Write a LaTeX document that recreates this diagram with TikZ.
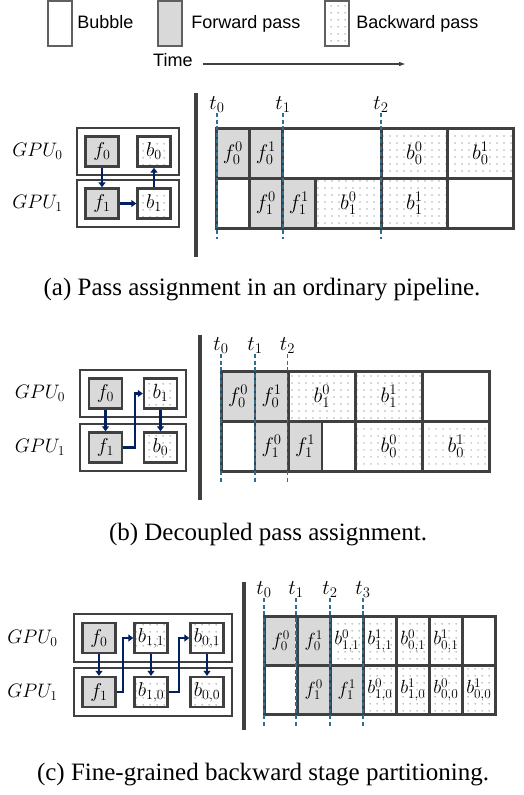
\RequirePackage{fix-cm}
\documentclass[tikz,border=0pt]{standalone}
\usepackage{fontspec}
\setmainfont{Liberation Serif}
\setsansfont{Liberation Sans}
\usepackage{tikz}
\usetikzlibrary{arrows.meta, positioning, fit, patterns.meta}
\usepackage{xcolor}
\definecolor{edgegray}{RGB}{64,64,64}
\definecolor{leggray}{RGB}{96,96,96}
\definecolor{fwdgray}{RGB}{217,217,217}
\definecolor{flowblue}{RGB}{0,32,96}
\definecolor{markblue}{RGB}{46,110,145}
\definecolor{dotgray}{RGB}{85,85,85}

\begin{document}
\begin{tikzpicture}[x=1pt, y=-1pt,
    cell/.style={rectangle, draw=edgegray, line width=2.6pt, anchor=north west, minimum width=33pt, minimum height=50pt, inner sep=0pt, font=\fontsize{21}{21}\selectfont},
    dotted fill/.style={pattern={Dots[distance=6.5pt, radius=0.65pt]}, pattern color=dotgray},
    fwd/.style={cell, fill=fwdgray},
    bwd/.style={cell, dotted fill},
    bub/.style={cell, fill=white},
    wide/.style={minimum width=#1},
    narrow/.style={minimum height=49pt, font=\fontsize{19}{19}\selectfont},
    task/.style={rectangle, draw=edgegray, line width=2.4pt, minimum width=33pt, minimum height=30pt, inner sep=0pt, font=\fontsize{20}{20}\selectfont},
    ftask/.style={task, fill=fwdgray},
    btask/.style={task, dotted fill},
    gpubox/.style={rectangle, draw=edgegray, line width=2.2pt, inner sep=7.5pt},
    gpulab/.style={font=\fontsize{19.5}{19.5}\selectfont, inner sep=0pt},
    flow/.style={-{Triangle[length=5pt, width=7pt]}, line width=2.2pt, draw=flowblue},
    tlab/.style={font=\fontsize{21}{21}\selectfont, inner sep=0pt, anchor=south},
    tline/.style={draw=markblue, line width=1.1pt, dash pattern=on 4pt off 2.5pt},
    divider/.style={draw=edgegray, line width=3.5pt},
    legbox/.style={rectangle, draw=leggray, line width=2.3pt, minimum width=24pt, minimum height=45pt, inner sep=0pt},
    legtext/.style={font=\sffamily\fontsize{18}{18}\selectfont, inner sep=0pt, text height=13pt, text depth=4pt},
    caption/.style={font=\fontsize{25}{25}\selectfont, inner sep=0pt}
]
\useasboundingbox (0,0) rectangle (524,795);

\node[legbox] (bubkey) at (60,23.5) {};
\node[legtext, right=4pt of bubkey] (bubtxt) {Bubble};
\node[legbox, fill=fwdgray] (fwdkey) at (170,23.5) {};
\node[legtext, right=8pt of fwdkey] (fwdtxt) {Forward pass};
\node[legbox, dotted fill] (bwdkey) at (337,23.5) {};
\node[legtext, right=6pt of bwdkey] (bwdtxt) {Backward pass};
\node[legtext, anchor=west] (timetxt) at (153,62) {Time};
\coordinate (timeend) at (405,64);
\draw[-{Triangle[length=6pt, width=4pt]}, line width=1.1pt, draw=edgegray, shorten <=10pt] (timetxt.east |- timeend) -- (timeend);

\node[ftask] (fa0) at (102,151.5) {$f_0$};
\node[btask] (ba0) at (154,151.5) {$b_0$};
\node[ftask] (fa1) at (102,203.5) {$f_1$};
\node[btask] (ba1) at (154,203.5) {$b_1$};
\node[gpubox, fit=(fa0)(ba0)] (gpua0) {};
\node[gpubox, fit=(fa1)(ba1)] (gpua1) {};
\node[gpulab, left=13pt of gpua0] (laba0) {$GPU_0$};
\node[gpulab, left=13pt of gpua1] (laba1) {$GPU_1$};
\draw[flow] (fa0) -- (fa1);
\draw[flow] (fa1) -- (ba1);
\draw[flow] (ba1) -- (ba0);
\draw[divider] (196,93) -- (196,257);

\node[fwd] (fa00) at (215,127) {$f_0^0$};
\node[fwd] (fa01) at (248,127) {$f_0^1$};
\node[bub, wide=99pt] (bubaa) at (281,127) {};
\node[bwd, wide=66pt] (ba00) at (380,127) {$b_0^0$};
\node[bwd, wide=66pt] (ba01) at (446,127) {$b_0^1$};
\node[bub] (bubab) at (215,177) {};
\node[fwd] (fa10) at (248,177) {$f_1^0$};
\node[fwd] (fa11) at (281,177) {$f_1^1$};
\node[bwd, wide=66pt] (ba10) at (314,177) {$b_1^0$};
\node[bwd, wide=66pt] (ba11) at (380,177) {$b_1^1$};
\node[bub, wide=66pt] (bubac) at (446,177) {};
\node[tlab] (ta0) at (217,113) {$t_0$};
\node[tlab] (ta1) at (283,113) {$t_1$};
\node[tlab] (ta2) at (381,113) {$t_2$};
\coordinate (ta0end) at (217,239);
\coordinate (ta1end) at (283,239);
\coordinate (ta2end) at (381,239);
\draw[tline] (ta0) -- (ta0end);
\draw[tline] (ta1) -- (ta1end);
\draw[tline] (ta2) -- (ta2end);
\node[caption] (capa) at (262,290) {(a) Pass assignment in an ordinary pipeline.};

\node[ftask] (fb0) at (105.5,393.5) {$f_0$};
\node[btask] (bb1) at (160.5,393.5) {$b_1$};
\node[ftask] (fb1) at (105.5,447.5) {$f_1$};
\node[btask] (bb0) at (160.5,447.5) {$b_0$};
\node[gpubox, fit=(fb0)(bb1)] (gpub0) {};
\node[gpubox, fit=(fb1)(bb0)] (gpub1) {};
\node[gpulab, left=14pt of gpub0] (labb0) {$GPU_0$};
\node[gpulab, left=14pt of gpub1] (labb1) {$GPU_1$};
\draw[flow] (fb0) -- (fb1);
\draw[flow] (fb1.east) -| ([xshift=-8pt]bb1.west) -- (bb1.west);
\draw[flow] (bb1) -- (bb0);
\draw[divider] (200,335) -- (200,500);

\node[fwd, wide=33.5pt] (fb00) at (220,370) {$f_0^0$};
\node[fwd, wide=33.5pt] (fb01) at (253.5,370) {$f_0^1$};
\node[bwd, wide=67pt] (bb10) at (287,370) {$b_1^0$};
\node[bwd, wide=67pt] (bb11) at (354,370) {$b_1^1$};
\node[bub, wide=67pt] (bubba) at (421,370) {};
\node[bub, wide=33.5pt] (bubbb) at (220,420) {};
\node[fwd, wide=33.5pt] (fb10) at (253.5,420) {$f_1^0$};
\node[fwd, wide=33.5pt] (fb11) at (287,420) {$f_1^1$};
\node[bub, wide=33.5pt] (bubbc) at (320.5,420) {};
\node[bwd, wide=67pt] (bb00) at (354,420) {$b_0^0$};
\node[bwd, wide=67pt] (bb01) at (421,420) {$b_0^1$};
\node[tlab] (tb0) at (221,354) {$t_0$};
\node[tlab] (tb1) at (255,354) {$t_1$};
\node[tlab] (tb2) at (287.5,354) {$t_2$};
\coordinate (tb0end) at (221,483);
\coordinate (tb1end) at (255,483);
\coordinate (tb2end) at (287.5,483);
\draw[tline] (tb0) -- (tb0end);
\draw[tline] (tb1) -- (tb1end);
\draw[tline] (tb2) -- (tb2end);
\node[caption] (capb) at (268,535) {(b) Decoupled pass assignment.};

\node[ftask] (fc0) at (99,638) {$f_0$};
\node[btask] (bc11) at (151,638) {$b_{1,1}$};
\node[btask] (bc01) at (207,638) {$b_{0,1}$};
\node[ftask] (fc1) at (99,692) {$f_1$};
\node[btask] (bc10) at (151,692) {$b_{1,0}$};
\node[btask] (bc00) at (207,692) {$b_{0,0}$};
\node[gpubox, fit=(fc0)(bc01)] (gpuc0) {};
\node[gpubox, fit=(fc1)(bc00)] (gpuc1) {};
\node[gpulab, left=15pt of gpuc0] (labc0) {$GPU_0$};
\node[gpulab, left=15pt of gpuc1] (labc1) {$GPU_1$};
\draw[flow] (fc0) -- (fc1);
\draw[flow] (fc1.east) -| ([xshift=-10pt]bc11.west) -- (bc11.west);
\draw[flow] (bc11) -- (bc10);
\draw[flow] (bc10.east) -| ([xshift=-10pt]bc01.west) -- (bc01.west);
\draw[flow] (bc01) -- (bc00);
\draw[divider] (244,582) -- (244,730);

\node[fwd, narrow] (fc00) at (263,615) {$f_0^0$};
\node[fwd, narrow] (fc01) at (296,615) {$f_0^1$};
\node[bwd, narrow] (bc110) at (329,615) {$b_{1,1}^0$};
\node[bwd, narrow] (bc111) at (362,615) {$b_{1,1}^1$};
\node[bwd, narrow] (bc010) at (395,615) {$b_{0,1}^0$};
\node[bwd, narrow] (bc011) at (428,615) {$b_{0,1}^1$};
\node[bub, narrow] (bubca) at (461,615) {};
\node[bub, narrow] (bubcb) at (263,664) {};
\node[fwd, narrow] (fc10) at (296,664) {$f_1^0$};
\node[fwd, narrow] (fc11) at (329,664) {$f_1^1$};
\node[bwd, narrow] (bc100) at (362,664) {$b_{1,0}^0$};
\node[bwd, narrow] (bc101) at (395,664) {$b_{1,0}^1$};
\node[bwd, narrow] (bc000) at (428,664) {$b_{0,0}^0$};
\node[bwd, narrow] (bc001) at (461,664) {$b_{0,0}^1$};
\node[tlab] (tc0) at (264,598) {$t_0$};
\node[tlab] (tc1) at (296,598) {$t_1$};
\node[tlab] (tc2) at (330,598) {$t_2$};
\node[tlab] (tc3) at (363,598) {$t_3$};
\coordinate (tc0end) at (264,727);
\coordinate (tc1end) at (296,727);
\coordinate (tc2end) at (330,727);
\coordinate (tc3end) at (363,727);
\draw[tline] (tc0) -- (tc0end);
\draw[tline] (tc1) -- (tc1end);
\draw[tline] (tc2) -- (tc2end);
\draw[tline] (tc3) -- (tc3end);
\node[caption] (capc) at (263,775) {(c) Fine-grained backward stage partitioning.};
\end{tikzpicture}
\end{document}
